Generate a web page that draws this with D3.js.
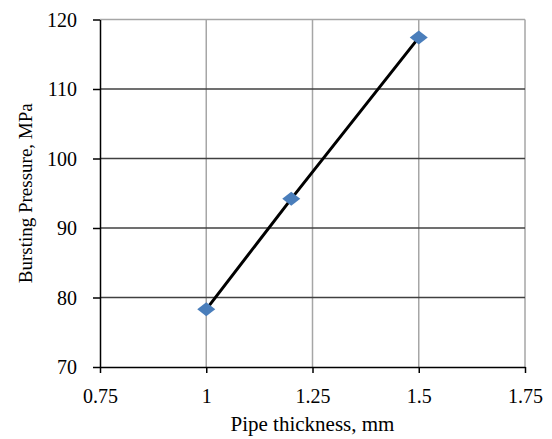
<!DOCTYPE html>
<html>
<head>
<meta charset="utf-8">
<script src="https://cdn.jsdelivr.net/npm/d3@7"></script>
<style>
  body { margin: 0; background: #fff; }
  text { font-family: "Liberation Serif", "Times New Roman", serif; fill: #000; }
</style>
</head>
<body>
<div id="chart"></div>
<script>
// data
var thickness = [1, 1.2, 1.5];
var pressure = [78.3, 94.2, 117.4];
var xTicks = [0.75, 1, 1.25, 1.5, 1.75];
var yTicks = [70, 80, 90, 100, 110, 120];

var W = 552, H = 439;
var mLeft = 100, mRight = 525, mTop = 19.5, mBottom = 367;

var svg = d3.select("#chart").append("svg")
  .attr("width", W)
  .attr("height", H);

var x = d3.scaleLinear().domain([0.75, 1.75]).range([mLeft, mRight]);
var y = d3.scaleLinear().domain([70, 120]).range([mBottom, mTop]);

// vertical grid (light)
svg.append("g").selectAll("line.vg")
  .data(xTicks.slice(1))
  .enter().append("line")
  .attr("x1", function(d){return x(d);})
  .attr("x2", function(d){return x(d);})
  .attr("y1", mTop).attr("y2", mBottom)
  .attr("stroke", "#a6a6a6").attr("stroke-width", 1.5);

// horizontal grid (dark)
svg.append("g").selectAll("line.hg")
  .data(yTicks.slice(1, -1))
  .enter().append("line")
  .attr("x1", mLeft).attr("x2", mRight)
  .attr("y1", function(d){return y(d);})
  .attr("y2", function(d){return y(d);})
  .attr("stroke", "#404040").attr("stroke-width", 1.5);

// top border
svg.append("line")
  .attr("x1", mLeft).attr("x2", mRight)
  .attr("y1", mTop).attr("y2", mTop)
  .attr("stroke", "#a6a6a6").attr("stroke-width", 1.5);

// axes
var xAxis = d3.axisBottom(x).tickValues(xTicks).tickSize(6).tickSizeOuter(0)
  .tickFormat(function(d){return String(d);});
var yAxis = d3.axisLeft(y).tickValues(yTicks).tickSize(7).tickSizeOuter(0);

var gx = svg.append("g").attr("transform", "translate(0," + mBottom + ")").call(xAxis);
var gy = svg.append("g").attr("transform", "translate(" + mLeft + ",0)").call(yAxis);

[gx, gy].forEach(function(g){
  g.select(".domain").attr("stroke", "#000").attr("stroke-width", 1.5);
  g.selectAll(".tick line").attr("stroke", "#000").attr("stroke-width", 1.5);
  g.selectAll(".tick text").style("font-size", "20px")
    .style("font-family", "'Liberation Serif', serif").attr("fill", "#000");
});
gx.selectAll(".tick text").attr("dy", null).attr("y", 36);
gy.selectAll(".tick text").attr("x", -23).attr("dy", "0.34em");

// series line
var pts = thickness.map(function(d, i){return [d, pressure[i]];});
svg.append("path")
  .datum(pts)
  .attr("fill", "none")
  .attr("stroke", "#000")
  .attr("stroke-width", 3)
  .attr("d", d3.line().x(function(d){return x(d[0]);}).y(function(d){return y(d[1]);}));

// diamond markers
svg.append("g").selectAll("path.mk")
  .data(pts)
  .enter().append("path")
  .attr("transform", function(d){return "translate(" + x(d[0]) + "," + y(d[1]) + ")";})
  .attr("d", "M0,-7L9,0L0,7L-9,0Z")
  .attr("fill", "#4a7ebb");

// axis titles
svg.append("text")
  .attr("x", (mLeft + mRight) / 2).attr("y", 431)
  .attr("text-anchor", "middle")
  .style("font-size", "21px")
  .text("Pipe thickness, mm");

svg.append("text")
  .attr("transform", "translate(32," + (mTop + mBottom) / 2 + ") rotate(-90)")
  .attr("text-anchor", "middle")
  .style("font-size", "19px")
  .text("Bursting Pressure, MPa");
</script>
</body>
</html>
